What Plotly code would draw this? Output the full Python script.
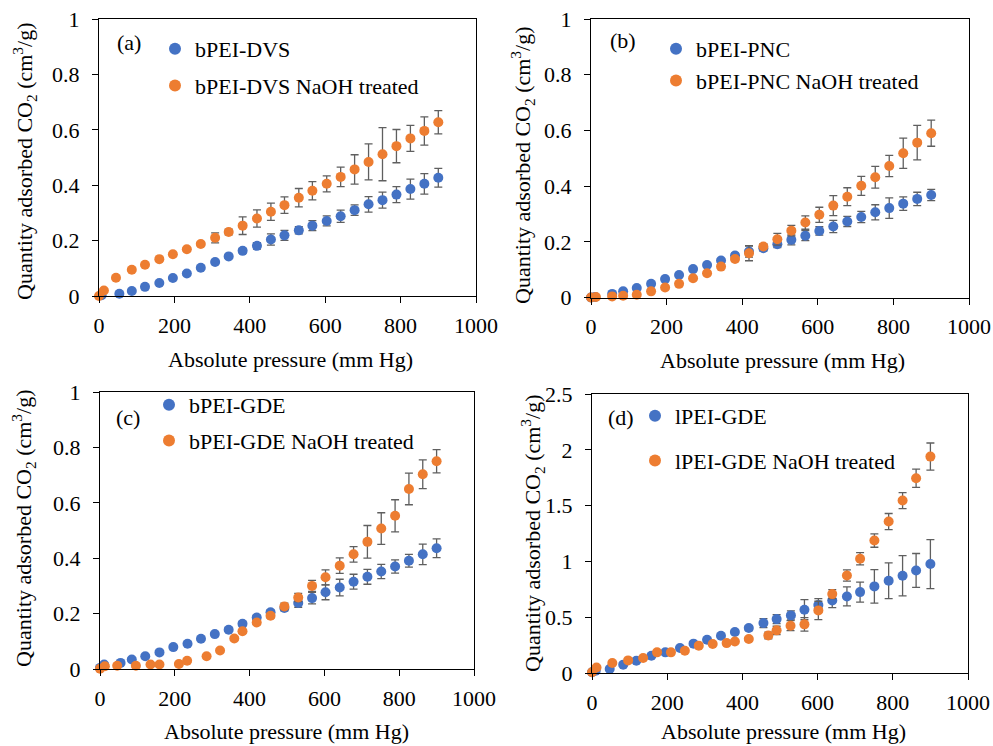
import plotly.graph_objects as go

# ---------------- data ----------------
# (a) bPEI-DVS
a_blue_x = [7, 54, 87, 122, 160, 196, 233, 270, 308, 344, 381, 419, 456, 492, 530, 566, 604, 641, 678, 715, 752, 789, 826, 863, 900]
a_blue_y = [0.003, 0.008, 0.018, 0.033, 0.047, 0.065, 0.081, 0.102, 0.123, 0.143, 0.163, 0.181, 0.204, 0.219, 0.237, 0.254, 0.271, 0.288, 0.310, 0.331, 0.346, 0.366, 0.386, 0.405, 0.427]
a_blue_e = [0.002, 0.003, 0.003, 0.003, 0.004, 0.004, 0.005, 0.005, 0.006, 0.007, 0.008, 0.012, 0.02, 0.018, 0.013, 0.018, 0.018, 0.022, 0.019, 0.028, 0.029, 0.029, 0.036, 0.037, 0.034]
a_or_x = [0, 13, 45, 87, 122, 160, 196, 233, 270, 308, 344, 381, 419, 456, 492, 530, 566, 604, 641, 678, 715, 752, 789, 826, 863, 900]
a_or_y = [0, 0.02, 0.066, 0.095, 0.113, 0.133, 0.151, 0.169, 0.188, 0.210, 0.231, 0.254, 0.280, 0.304, 0.328, 0.355, 0.380, 0.405, 0.430, 0.457, 0.484, 0.512, 0.541, 0.569, 0.596, 0.627]
a_or_e = [0.002, 0.003, 0.004, 0.004, 0.004, 0.004, 0.005, 0.005, 0.006, 0.018, 0.01, 0.032, 0.031, 0.031, 0.03, 0.033, 0.033, 0.029, 0.035, 0.053, 0.065, 0.096, 0.06, 0.047, 0.051, 0.042]

# (b) bPEI-PNC
b_blue_x = [0, 11, 56, 85, 121, 159, 196, 233, 270, 307, 344, 381, 418, 456, 493, 530, 567, 604, 641, 678, 715, 752, 789, 826, 863, 900]
b_blue_y = [0, 0.002, 0.013, 0.022, 0.034, 0.049, 0.066, 0.081, 0.102, 0.117, 0.133, 0.151, 0.165, 0.177, 0.191, 0.207, 0.222, 0.239, 0.255, 0.273, 0.289, 0.306, 0.321, 0.337, 0.354, 0.368]
b_blue_e = [0.002, 0.002, 0.003, 0.003, 0.003, 0.004, 0.004, 0.005, 0.005, 0.006, 0.006, 0.008, 0.02, 0.01, 0.012, 0.018, 0.018, 0.015, 0.022, 0.018, 0.02, 0.027, 0.037, 0.024, 0.024, 0.02]
b_or_x = [0, 13, 56, 85, 121, 159, 196, 233, 270, 307, 344, 381, 418, 456, 493, 530, 567, 604, 641, 678, 715, 752, 789, 826, 863, 900]
b_or_y = [0, 0.002, 0.004, 0.006, 0.01, 0.022, 0.036, 0.049, 0.069, 0.087, 0.111, 0.138, 0.159, 0.183, 0.209, 0.240, 0.269, 0.297, 0.330, 0.362, 0.401, 0.432, 0.472, 0.518, 0.556, 0.590]
b_or_e = [0.002, 0.002, 0.002, 0.003, 0.003, 0.003, 0.004, 0.004, 0.005, 0.005, 0.006, 0.008, 0.027, 0.01, 0.021, 0.019, 0.024, 0.027, 0.036, 0.032, 0.034, 0.039, 0.038, 0.054, 0.062, 0.047]

# (c) bPEI-GDE
c_blue_x = [0, 11, 55, 85, 121, 159, 196, 234, 270, 307, 344, 381, 419, 456, 493, 530, 567, 603, 641, 678, 715, 752, 789, 826, 863, 900]
c_blue_y = [0.004, 0.016, 0.022, 0.034, 0.046, 0.06, 0.079, 0.091, 0.109, 0.126, 0.142, 0.163, 0.186, 0.205, 0.22, 0.238, 0.256, 0.277, 0.294, 0.315, 0.333, 0.352, 0.37, 0.391, 0.414, 0.436]
c_blue_e = [0.002, 0.002, 0.003, 0.003, 0.003, 0.004, 0.004, 0.005, 0.005, 0.006, 0.006, 0.007, 0.008, 0.008, 0.01, 0.015, 0.021, 0.027, 0.03, 0.027, 0.027, 0.026, 0.024, 0.023, 0.037, 0.034]
c_or_x = [0, 13, 46, 96, 135, 159, 211, 233, 285, 321, 359, 381, 419, 456, 493, 530, 567, 603, 641, 678, 715, 752, 789, 826, 863, 900]
c_or_y = [0.001, 0.01, 0.012, 0.012, 0.016, 0.016, 0.018, 0.03, 0.046, 0.067, 0.11, 0.136, 0.168, 0.192, 0.226, 0.258, 0.3, 0.331, 0.373, 0.414, 0.459, 0.507, 0.553, 0.65, 0.703, 0.75]
c_or_e = [0.002, 0.002, 0.003, 0.003, 0.003, 0.003, 0.003, 0.004, 0.004, 0.005, 0.005, 0.006, 0.008, 0.008, 0.012, 0.015, 0.02, 0.027, 0.028, 0.028, 0.059, 0.057, 0.058, 0.057, 0.052, 0.042]

# (d) lPEI-GDE
d_blue_x = [0, 10, 47, 83, 118, 158, 195, 234, 270, 306, 343, 380, 417, 456, 491, 529, 565, 602, 639, 678, 713, 751, 789, 826, 862, 900]
d_blue_y = [0.006, 0.02, 0.036, 0.075, 0.11, 0.155, 0.185, 0.224, 0.263, 0.298, 0.334, 0.367, 0.403, 0.447, 0.483, 0.516, 0.567, 0.609, 0.65, 0.686, 0.725, 0.776, 0.826, 0.871, 0.919, 0.976]
d_blue_e = [0.005, 0.006, 0.008, 0.01, 0.01, 0.012, 0.012, 0.014, 0.015, 0.016, 0.018, 0.02, 0.022, 0.04, 0.04, 0.04, 0.09, 0.057, 0.064, 0.085, 0.09, 0.15, 0.16, 0.18, 0.152, 0.22]
d_or_x = [0, 12, 54, 96, 136, 173, 210, 247, 284, 321, 358, 380, 417, 469, 491, 528, 565, 602, 639, 678, 713, 751, 789, 826, 862, 900]
d_or_y = [0.006, 0.05, 0.09, 0.113, 0.134, 0.185, 0.185, 0.2, 0.245, 0.26, 0.268, 0.283, 0.304, 0.337, 0.382, 0.424, 0.436, 0.561, 0.707, 0.874, 1.023, 1.187, 1.357, 1.545, 1.745, 1.939]
d_or_e = [0.005, 0.006, 0.008, 0.008, 0.01, 0.01, 0.01, 0.012, 0.012, 0.012, 0.014, 0.014, 0.015, 0.03, 0.037, 0.045, 0.06, 0.082, 0.04, 0.05, 0.055, 0.06, 0.072, 0.072, 0.082, 0.122]

names = [("bPEI-DVS", "bPEI-DVS NaOH treated"),
         ("bPEI-PNC", "bPEI-PNC NaOH treated"),
         ("bPEI-GDE", "bPEI-GDE NaOH treated"),
         ("lPEI-GDE", "lPEI-GDE NaOH treated")]
panel_labels = ["(a)", "(b)", "(c)", "(d)"]
x_ticks = [0, 200, 400, 600, 800, 1000]
y_ranges = [[0, 1], [0, 1], [0, 1], [0, 2.5]]
y_dticks = [0.2, 0.2, 0.2, 0.5]

series = [
    (a_blue_x, a_blue_y, a_blue_e, a_or_x, a_or_y, a_or_e),
    (b_blue_x, b_blue_y, b_blue_e, b_or_x, b_or_y, b_or_e),
    (c_blue_x, c_blue_y, c_blue_e, c_or_x, c_or_y, c_or_e),
    (d_blue_x, d_blue_y, d_blue_e, d_or_x, d_or_y, d_or_e),
]

# ---------------- layout geometry (pixels) ----------------
W, H = 993, 746
FONT = "Liberation Serif"
FS = 22
BLUE = "#4472C4"
ORANGE = "#ED7D31"
ERR = "#5F5F5F"

# plot areas: left, right, top, bottom in px
areas = [(99, 476, 19, 296), (591, 969, 19, 297.5), (100, 474, 392, 669), (592, 968, 394, 673)]
# legend: marker center x, first item center y, group gap
legend_pos = [(175, 50, 5), (676, 50, 0), (169, 406, 4), (655, 417, 13)]
label_pos = [(129, 42), (623, 40), (128, 417), (621, 417)]
ytitle_pos = [(24, 161), (522, 165), (23, 528), (532, 533)]
xtitle_pos = [(290, 359), (782, 360), (286, 731), (783, 731)]

fig = go.Figure()
annotations = []
layout = dict(
    width=W, height=H, margin=dict(l=0, r=0, t=0, b=0, autoexpand=False),
    paper_bgcolor="white", plot_bgcolor="white",
    font=dict(family=FONT, size=FS, color="black"),
    showlegend=True,
)

for i in range(4):
    bx, by, be, ox, oy, oe = series[i]
    xa = "x" if i == 0 else f"x{i+1}"
    ya = "y" if i == 0 else f"y{i+1}"
    lg = "legend" if i == 0 else f"legend{i+1}"
    for (xx, yy, ee, col, nm, grp) in [(bx, by, be, BLUE, names[i][0], f"g{i}b"),
                                        (ox, oy, oe, ORANGE, names[i][1], f"g{i}o")]:
        fig.add_trace(go.Scatter(
            x=xx, y=yy, mode="markers", name=nm, xaxis=xa, yaxis=ya,
            legend=lg, legendgroup=grp,
            marker=dict(color=col, size=10, line=dict(width=0)),
            error_y=dict(type="data", array=ee, visible=True, color=ERR, thickness=1.3, width=4),
            cliponaxis=False,
        ))
    l, r, t, b = areas[i]
    xkey = "xaxis" if i == 0 else f"xaxis{i+1}"
    ykey = "yaxis" if i == 0 else f"yaxis{i+1}"
    layout[xkey] = dict(
        domain=[l / W, r / W], anchor=ya, range=[0, 1000], tickvals=x_ticks,
        showline=True, mirror=True, linecolor="black", linewidth=1.3,
        ticks="outside", ticklen=6, tickcolor="black", tickwidth=1.3,
        showgrid=False, zeroline=False, ticklabelstandoff=3, automargin=False,
        tickfont=dict(family=FONT, size=FS, color="black"),
    )
    layout[ykey] = dict(
        domain=[1 - b / H, 1 - t / H], anchor=xa, range=y_ranges[i], dtick=y_dticks[i],
        showline=True, mirror=True, linecolor="black", linewidth=1.3,
        ticks="outside", ticklen=6, tickcolor="black", tickwidth=1.3,
        showgrid=False, zeroline=False, ticklabelstandoff=8, automargin=False,
        tickfont=dict(family=FONT, size=FS, color="black"),
    )
    lx, ly, gap = legend_pos[i]
    layout[lg] = dict(
        x=(lx - 20) / W, y=1 - (ly - 22) / H, xanchor="left", yanchor="top",
        xref="paper", yref="paper",
        bgcolor="rgba(0,0,0,0)", borderwidth=0,
        font=dict(family=FONT, size=FS, color="black"),
        traceorder="grouped", tracegroupgap=gap, itemsizing="constant",
    )
    px_, py_ = label_pos[i]
    annotations.append(dict(text=panel_labels[i], x=px_ / W, y=1 - py_ / H, xref="paper", yref="paper",
                            showarrow=False, xanchor="center", yanchor="middle",
                            font=dict(family=FONT, size=FS, color="black")))
    tx, ty = ytitle_pos[i]
    annotations.append(dict(text="Quantity adsorbed CO<sub>2</sub> (cm<sup>3</sup>/g)",
                            x=tx / W, y=1 - ty / H, xref="paper", yref="paper",
                            showarrow=False, textangle=-90, xanchor="center", yanchor="middle",
                            font=dict(family=FONT, size=FS, color="black")))
    tx, ty = xtitle_pos[i]
    annotations.append(dict(text="Absolute pressure (mm Hg)",
                            x=tx / W, y=1 - ty / H, xref="paper", yref="paper",
                            showarrow=False, xanchor="center", yanchor="middle",
                            font=dict(family=FONT, size=FS, color="black")))

layout["annotations"] = annotations
fig.update_layout(**layout)
fig.write_html("out.html", config={"displayModeBar": False},
               post_script="document.body.style.margin='0';document.body.style.overflow='hidden';document.documentElement.style.overflow='hidden';")
